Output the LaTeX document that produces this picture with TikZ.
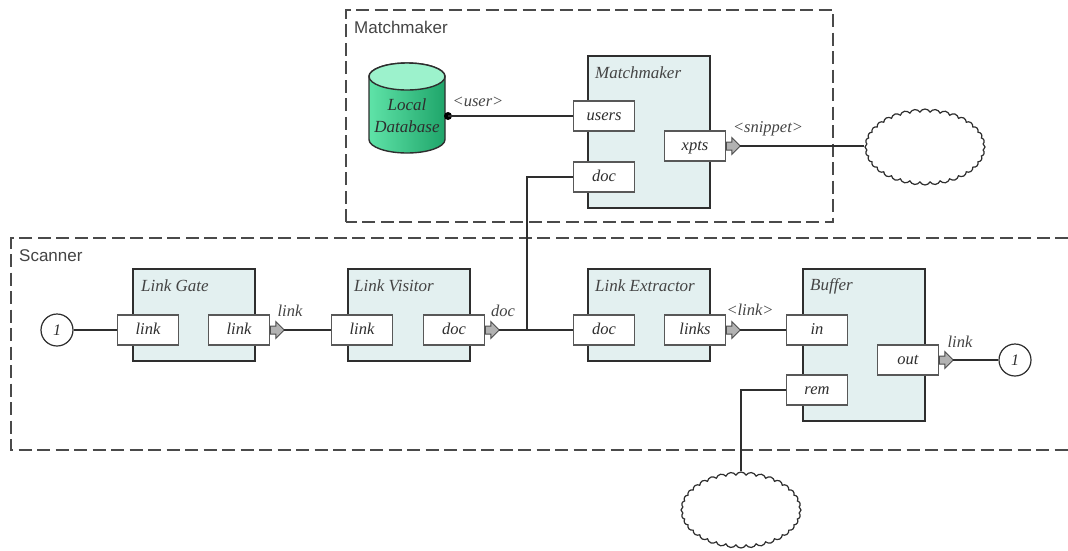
\documentclass[tikz,border=0pt]{standalone}
\usepackage{fontspec}
\setmainfont{Liberation Serif}
\setsansfont{Liberation Sans}
\usetikzlibrary{shapes.arrows,shapes.symbols}
\definecolor{ink}{HTML}{2E2E2E}
\definecolor{txt}{HTML}{444444}
\definecolor{boxfill}{HTML}{E3F0F0}
\definecolor{dashc}{HTML}{4A4A4A}
\definecolor{dbdark}{HTML}{1FA56A}
\definecolor{dblight}{HTML}{5FE3A8}
\definecolor{dbtop}{HTML}{9CF2CC}
\tikzset{
 region/.style={draw=dashc,line width=1.5pt,dash pattern=on 13pt off 5.5pt},
 regionlabel/.style={font=\sffamily\fontsize{17}{19}\selectfont,text=txt,anchor=west,inner sep=0pt},
 actor/.style={draw=ink,line width=2.2pt,fill=boxfill,anchor=north west,minimum width=122pt,inner sep=0pt},
 actortitle/.style={font=\itshape\fontsize{17}{19}\selectfont,text=txt,anchor=west,inner sep=0pt},
 port/.style={draw=ink!80,line width=1.5pt,fill=white,minimum width=61pt,minimum height=30pt,inner sep=0pt,text height=11pt,text depth=2.5pt,font=\itshape\fontsize{16.5}{19}\selectfont,text=ink},
 wire/.style={draw=ink,line width=1.3pt},
 flowarrow/.style={shape=single arrow,draw=ink!85,line width=1pt,fill=black!30,anchor=west,minimum height=14pt,inner xsep=0pt,inner ysep=3.5pt,outer sep=0pt,single arrow head extend=4.5pt,single arrow head indent=0pt,single arrow tip angle=90},
 wirelabel/.style={font=\itshape\fontsize{16.5}{19}\selectfont,text=txt,inner sep=0pt},
 loopnode/.style={circle,draw=ink,line width=1.2pt,fill=white,minimum size=32pt,inner sep=0pt,font=\itshape\fontsize{16}{19}\selectfont,text=ink},
 cloudy/.style={cloud,cloud puffs=36,cloud puff arc=125,aspect=1.6,draw=ink,line width=1.2pt,fill=white,minimum width=120pt,minimum height=76pt,inner sep=0pt},
}
\begin{document}
\begin{tikzpicture}[x=1pt,y=-1pt]
\useasboundingbox (0,0) rectangle (1068,550);
\fill[white] (0,0) rectangle (1068,550);
% regions
\draw[region] (346,222) -- (346,10) -- (833,10) -- (833,222) -- cycle;
\draw[region] (1068,238) -- (11,238) -- (11,450) -- (1068,450);
\node[regionlabel] (lblm) at (354,27) {Matchmaker};
\node[regionlabel] (lbls) at (19,256) {Scanner};
% actors
\node[actor,minimum height=152pt] (mm) at (587,55) {};
\node[actor,minimum height=92pt] (gate) at (132,268) {};
\node[actor,minimum height=92pt] (visitor) at (347,268) {};
\node[actor,minimum height=92pt] (extractor) at (587,268) {};
\node[actor,minimum height=152pt] (buffer) at (802,268) {};
\node[actortitle] (tm) at (595,73) {Matchmaker};
\node[actortitle] (tg) at (141,286) {Link Gate};
\node[actortitle] (tv) at (354,286) {Link Visitor};
\node[actortitle] (te) at (595,286) {Link Extractor};
\node[actortitle] (tb) at (810,286) {Buffer};
% ports
\node[port] (users) at (604,116) {users};
\node[port] (mdoc) at (604,177) {doc};
\node[port] (xpts) at (695,146) {xpts};
\node[port] (glin) at (148,330) {link};
\node[port] (glout) at (239,330) {link};
\node[port] (vlin) at (362,330) {link};
\node[port] (vdoc) at (454,330) {doc};
\node[port] (edoc) at (604,330) {doc};
\node[port] (elinks) at (695,330) {links};
\node[port] (bin) at (817,330) {in};
\node[port] (brem) at (817,390) {rem};
\node[port] (bout) at (908,360) {out};
% external
\path[draw=ink,line width=1.4pt,left color=dblight,right color=dbdark]
  (369,76.5) -- (369,139.5) arc [start angle=180,end angle=360,x radius=38pt,y radius=13.5pt] -- (445,76.5) arc [start angle=0,end angle=180,x radius=38pt,y radius=13.5pt] -- cycle;
\fill[dbtop,draw=ink,line width=1.4pt] (407,76.5) ellipse [x radius=38pt,y radius=13.5pt];
\node[font=\itshape\fontsize{17}{22}\selectfont,text=ink,align=center,inner sep=0pt] (dbt) at (407,116) {Local\\Database};
\node[loopnode] (l1) at (57,330) {1};
\node[loopnode] (l2) at (1015,360) {1};
\node[cloudy] (c1) at (925,147) {};
\node[cloudy] (c2) at (741,510) {};
% arrows
\node[flowarrow] (axp) at (xpts.east) {};
\node[flowarrow] (agl) at (glout.east) {};
\node[flowarrow] (avd) at (vdoc.east) {};
\node[flowarrow] (ael) at (elinks.east) {};
\node[flowarrow] (abo) at (bout.east) {};
% wires
\coordinate (dbport) at (448,116);
\fill[black] (dbport) circle (4pt);
\draw[wire] (dbport) -- (users.west);
\draw[wire] (axp.east) -- (axp.east -| c1.west);
\draw[wire] (l1.east) -- (glin.west);
\draw[wire] (agl.east) -- (vlin.west);
\draw[wire] (avd.east) -- (edoc.west);
\coordinate (branch) at (527,330);
\draw[wire] (branch) -- (branch |- mdoc.west) -- (mdoc.west);
\draw[wire] (ael.east) -- (bin.west);
\draw[wire] (abo.east) -- (l2.west);
\draw[wire] (brem.west) -- (741,390) -- (c2.north);
% wire labels
\node[wirelabel] (wu) at (478,102) {<user>};
\node[wirelabel] (ws) at (768,129) {<snippet>};
\node[wirelabel] (wl1) at (290,311) {link};
\node[wirelabel] (wd) at (503,311) {doc};
\node[wirelabel] (wl2) at (750,310) {<link>};
\node[wirelabel] (wl3) at (960,342) {link};
\end{tikzpicture}
\end{document}
